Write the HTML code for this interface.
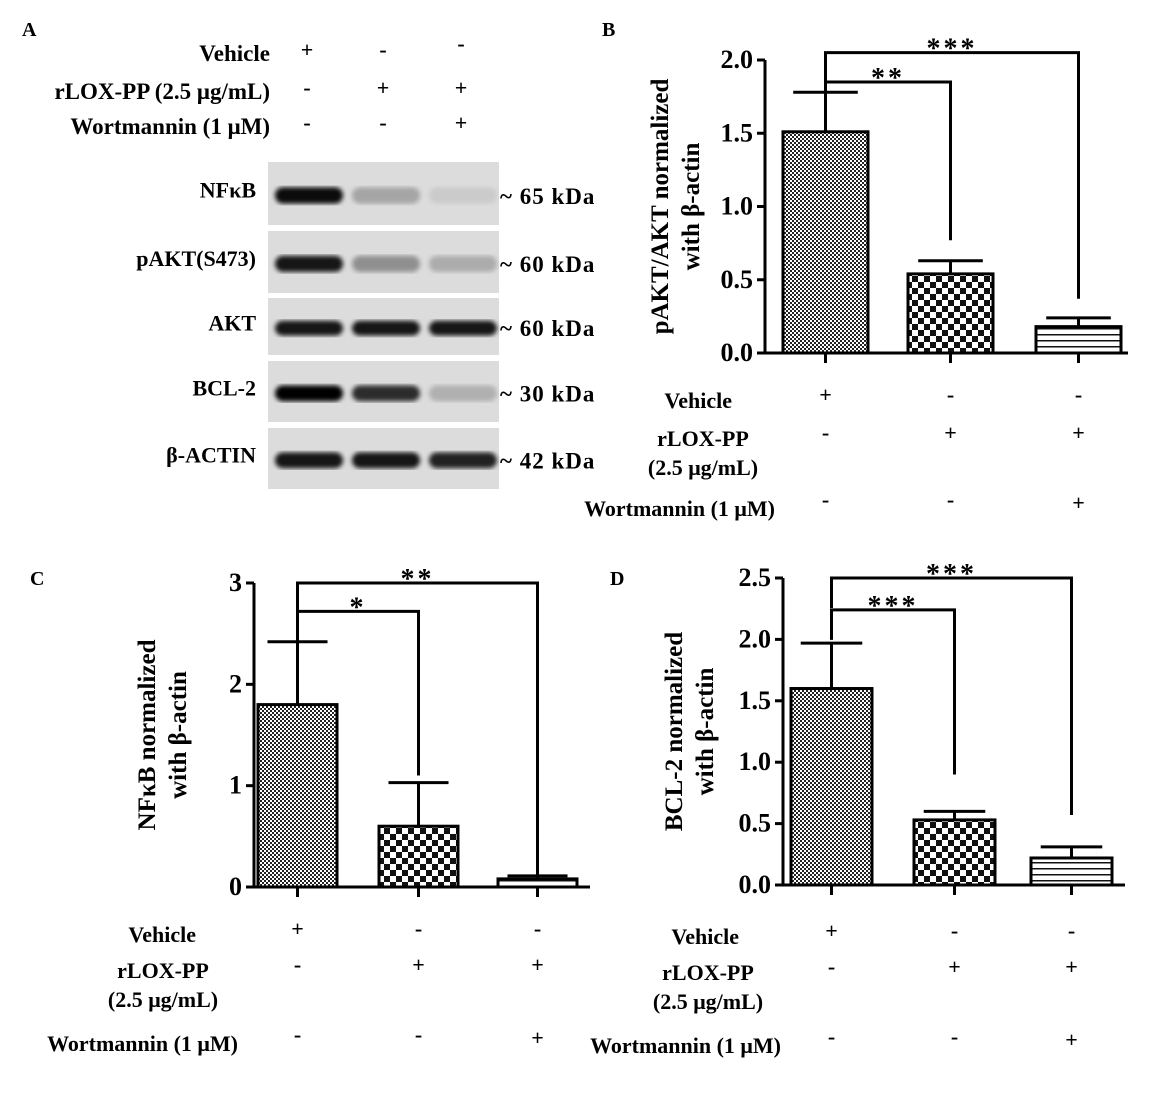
<!DOCTYPE html>
<html><head><meta charset="utf-8"><style>
body{margin:0;background:#fff;width:1173px;height:1098px;overflow:hidden;font-family:"Liberation Serif",serif;font-weight:bold}
svg text{font-family:"Liberation Serif",serif;font-weight:bold;fill:#000}
</style></head><body>
<svg id="s" width="1173" height="1098">
<defs>
<pattern id="p1" width="4" height="4" patternUnits="userSpaceOnUse"><rect width="4" height="4" fill="#fff"/><rect width="2" height="2" fill="#222"/><rect x="2" y="2" width="2" height="2" fill="#222"/></pattern>
<pattern id="p2" width="12" height="12" patternUnits="userSpaceOnUse"><rect width="12" height="12" fill="#fff"/><rect width="6" height="6" fill="#111"/><rect x="6" y="6" width="6" height="6" fill="#111"/></pattern>
<pattern id="p3" width="6" height="6" patternUnits="userSpaceOnUse"><rect width="6" height="6" fill="#fff"/><rect y="4" width="6" height="1.5" fill="#111"/></pattern>
<filter id="bl"><feGaussianBlur stdDeviation="2.5"/></filter>
</defs>
<g id="blot"></g>
<g id="charts"></g>
</svg>
<script>
const NS='http://www.w3.org/2000/svg';
const svg=document.getElementById('s');
function mk(t,a,p){const e=document.createElementNS(NS,t);for(const k in a)e.setAttribute(k,a[k]);(p||svg).appendChild(e);return e;}
function tx(x,y,s,size,anchor,p){const e=mk('text',{x:x,y:y,'font-size':size||20,'text-anchor':anchor||'start'},p);e.textContent=s;return e;}

// Panel A
const blot=document.getElementById('blot');
tx(22,36,'A',20);
const treatRows=[['Vehicle',61,['+','-','-']],['rLOX-PP (2.5 μg/mL)',99,['-','+','+']],['Wortmannin (1 μM)',134,['-','-','+']]];
const laneX=[307,383,461];
treatRows.forEach(r=>{tx(270,r[1],r[0],23,'end');r[2].forEach((v,i)=>tx(laneX[i],r[1]-4+(i==2&&r[0]=='Vehicle'?-6:0),v,22,'middle'));});
const blotRows=[['NFκB',162,63,'~ 65 kDa',[0.95,0.25,0.08]],['pAKT(S473)',231,62,'~ 60 kDa',[0.9,0.35,0.22]],['AKT',298,57,'~ 60 kDa',[0.9,0.9,0.9]],['BCL-2',361,61,'~ 30 kDa',[1,0.8,0.2]],['β-ACTIN',428,61,'~ 42 kDa',[0.9,0.9,0.85]]];
blotRows.forEach(r=>{
  const g=mk('g',{},blot);
  
  
  mk('rect',{x:268,y:r[1],width:231,height:r[2],fill:'#dcdcdc'},g);
  r[4].forEach((v,i)=>{mk('rect',{x:275+i*77,y:r[1]+r[2]*0.4,width:68,height:r[2]*0.26,rx:8,fill:'#000','fill-opacity':v,filter:'url(#bl)'},g);});
  tx(256,r[1]+r[2]*0.5+4,r[0],22,'end',g);
  const t=tx(500,r[1]+r[2]*0.6+4,r[3],23,'start',g);
  t.setAttribute('letter-spacing','1');
});

// Charts
const categories=['Vehicle','rLOX-PP','Wortmannin'];
const bValues=[1.51,0.54,0.18], bErrors=[1.78,0.63,0.24], bTicks=['0.0','0.5','1.0','1.5','2.0'];
const cValues=[1.8,0.6,0.08], cErrors=[2.42,1.03,0.11], cTicks=['0','1','2','3'];
const dValues=[1.6,0.53,0.22], dErrors=[1.97,0.6,0.31], dTicks=['0.0','0.5','1.0','1.5','2.0','2.5'];
const bSig=[[2.05,2,0.37,'***'],[1.85,1,0.77,'**']];
const cSig=[[3.0,2,0.12,'**'],[2.72,1,1.1,'*']];
const dSig=[[2.5,2,0.57,'***'],[2.24,1,0.9,'***']];

function chart(o){
  const g=mk('g',{});
  
  
  const y=v=>o.y0-(v/o.max)*(o.y0-o.yTop);
  tx(o.lx,o.ly,o.letter,20,'start',g);
  mk('line',{x1:o.ax,y1:o.yTop,x2:o.ax,y2:o.y0,stroke:'#000','stroke-width':3},g);
  mk('line',{x1:o.ax,y1:o.y0,x2:o.xEnd,y2:o.y0,stroke:'#000','stroke-width':3},g);
  o.ticks.forEach((t,i)=>{const v=o.max*i/(o.ticks.length-1);const yy=y(v);
    mk('line',{x1:o.ax-8,y1:yy,x2:o.ax,y2:yy,stroke:'#000','stroke-width':3},g);
    tx(o.ax-12,yy+8,t,26,'end',g);});
  const pats=['url(#p1)','url(#p2)','url(#p3)'];
  const cx=[];
  o.values.forEach((v,i)=>{
    const x0=o.bx[i],w=o.bw,c=x0+w/2;cx.push(c);
    mk('line',{x1:c,y1:o.y0,x2:c,y2:o.y0+10,stroke:'#000','stroke-width':3},g);
    mk('line',{x1:c,y1:y(v),x2:c,y2:y(o.errors[i]),stroke:'#000','stroke-width':3},g);
    mk('line',{x1:c-w*0.38,y1:y(o.errors[i]),x2:c+w*0.38,y2:y(o.errors[i]),stroke:'#000','stroke-width':3},g);
    const r=mk('rect',{x:x0,y:y(v),width:w,height:o.y0-y(v),fill:pats[i],stroke:'#000','stroke-width':3},g);
    
    
  });
  o.sig.forEach(s=>{
    const yy=y(s[0]),xe=cx[s[1]];
    mk('polyline',{points:`${cx[0]},${yy+30} ${cx[0]},${yy} ${xe},${yy} ${xe},${y(s[2])}`,fill:'none',stroke:'#000','stroke-width':3},g);
    const t=tx((cx[0]+xe)/2,yy+5,s[3],28,'middle',g);
    t.setAttribute('letter-spacing','3');
  });
  const t=tx(0,0,'',25,'middle',g);
  t.setAttribute('transform',`translate(${o.tx},${(o.yTop+o.y0)/2}) rotate(-90)`);
  o.title.forEach((s,i)=>{const ts=mk('tspan',{x:0,dy:i?31:0},t);ts.textContent=s;});
  const rows=[['Vehicle',['+','-','-']],['rLOX-PP',['-','+','+']],['Wortmannin (1 μM)',['-','-','+']]];
  tx(o.tlx[0],o.ry[0],'Vehicle',22,'end',g);
  tx(o.tlx[1],o.ry[1],'rLOX-PP',22,'middle',g);
  tx(o.tlx[1],o.ry[1]+29,'(2.5 μg/mL)',22,'middle',g);
  tx(o.tlx[2],o.ry[2],'Wortmannin (1 μM)',22,'end',g);
  rows.forEach((r,ri)=>r[1].forEach((v,i)=>tx(cx[i],o.ry[ri]-(ri==2&&i<2?9:6),v,22,'middle',g)));
}
chart({name:'chart-b-pakt',letter:'B',lx:602,ly:36,ax:765,xEnd:1128,y0:353,yTop:60,max:2,ticks:bTicks,values:bValues,errors:bErrors,bx:[783,908,1036],bw:85,sig:bSig,tx:668,title:['pAKT/AKT normalized','with β-actin'],tlx:[732,703,775],ry:[408,446,516]});
chart({name:'chart-c-nfkb',letter:'C',lx:30,ly:585,ax:254,xEnd:590,y0:887,yTop:583,max:3,ticks:cTicks,values:cValues,errors:cErrors,bx:[258,379,498],bw:79,sig:cSig,tx:155,title:['NFκB normalized','with β-actin'],tlx:[196,163,238],ry:[942,978,1051]});
chart({name:'chart-d-bcl2',letter:'D',lx:610,ly:585,ax:783,xEnd:1125,y0:885,yTop:578,max:2.5,ticks:dTicks,values:dValues,errors:dErrors,bx:[791,914,1031],bw:81,sig:dSig,tx:682,title:['BCL-2 normalized','with β-actin'],tlx:[739,708,781],ry:[944,980,1053]});
</script>
</body></html>
